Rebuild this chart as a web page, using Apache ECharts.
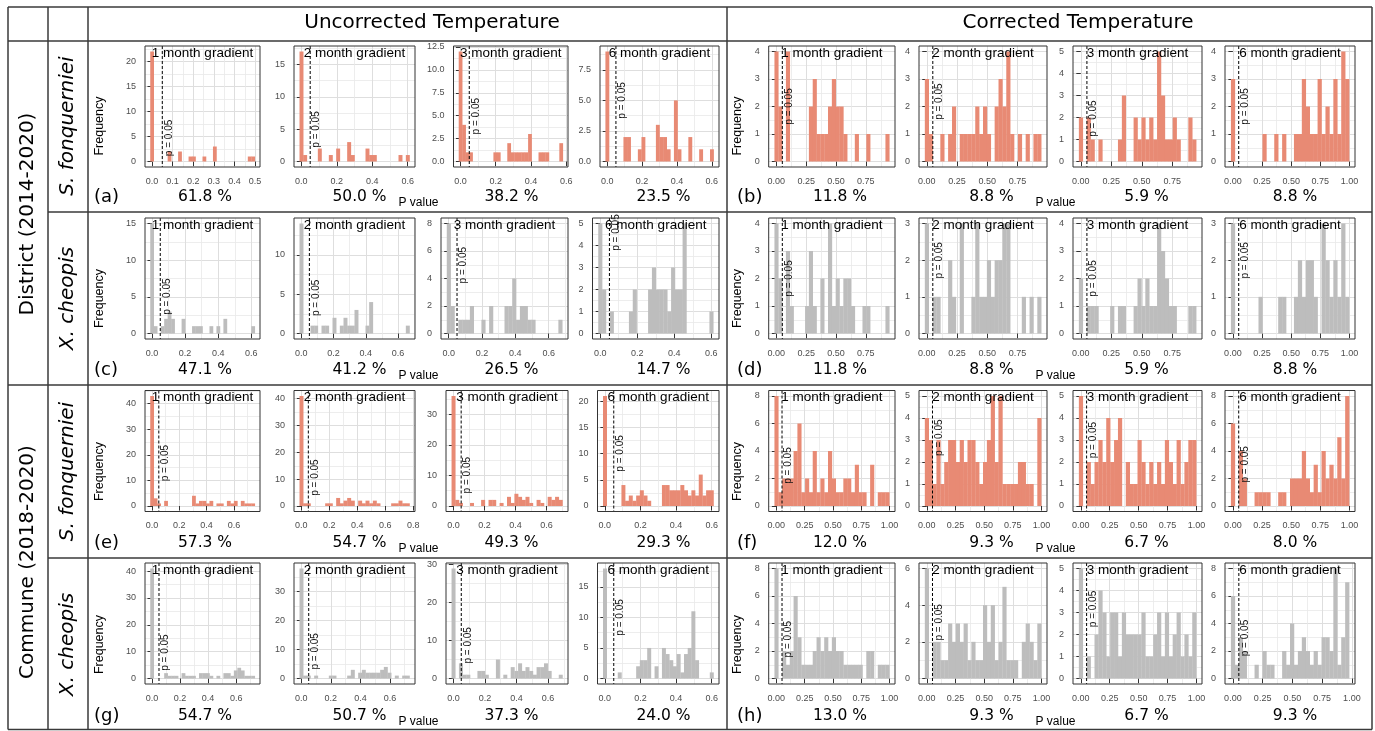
<!DOCTYPE html>
<html>
<head>
<meta charset="utf-8">
<script src="https://cdn.jsdelivr.net/npm/echarts@6/dist/echarts.min.js"></script>
<style>
html, body { margin: 0; padding: 0; background: #fff; }
#chart { width: 1375px; height: 731px; }
</style>
</head>
<body>
<div id="chart"></div>
<script>
// ---------------- data ----------------
const gradients = ['1 month gradient', '2 month gradient', '3 month gradient', '6 month gradient'];

// tick label sets for the p value axis
const xTickU1 = [0, 0.1, 0.2, 0.3, 0.4, 0.5, 0.6];
const xTickU = [0, 0.2, 0.4, 0.6, 0.8];
const xTickC = [0, 0.25, 0.5, 0.75, 1];

// histogram counts, 30 bins each, first bin centred at p = 0, last bin centred at lastBin
const countsA = [
  [22,0,0,0,0,2,0,0,2,0,0,1,1,0,0,1,0,0,3,0,0,0,0,0,0,0,0,0,1,1],
  [17,1,0,0,0,2,0,0,1,0,2,0,0,3,1,0,0,0,2,1,1,0,0,0,0,0,0,1,0,1],
  [12,4,1,1,0,0,0,0,0,0,1,1,0,0,2,1,1,1,1,1,3,0,0,1,1,1,0,0,0,2],
  [9,0,0,0,0,2,2,0,0,1,2,0,0,0,3,2,2,1,0,5,1,0,0,2,0,0,1,0,0,1]
];
const lastBinA = [0.49, 0.6, 0.57, 0.6];
const yStepA = [5, 5, 2.5, 2.5];
const pctA = ['61.8 %', '50.0 %', '38.2 %', '23.5 %'];

const countsB = [
  [4,2,0,4,0,0,0,0,0,2,3,1,1,1,2,3,2,2,1,0,0,1,0,0,1,0,0,0,0,1],
  [3,1,0,0,1,0,1,2,0,1,1,1,1,2,1,2,1,0,2,3,2,4,1,0,1,0,1,0,1,1],
  [2,0,2,1,0,1,0,0,0,0,1,3,0,0,2,1,2,1,2,1,5,3,1,1,2,1,0,0,2,1],
  [3,0,0,0,0,0,0,0,1,0,0,1,0,1,0,0,1,1,3,2,1,1,3,1,2,1,3,1,4,3]
];
const lastBinB = [0.93, 0.93, 0.93, 0.98];
const yStepB = [1, 1, 1, 1];
const pctB = ['11.8 %', '8.8 %', '5.9 %', '8.8 %'];

const countsC = [
  [15,1,0,1,2,3,2,0,0,2,0,0,1,1,1,0,0,1,0,1,0,2,0,0,0,0,0,0,0,1],
  [14,0,0,1,1,0,1,1,0,2,0,1,2,1,1,3,0,0,1,4,0,0,0,0,0,0,0,0,0,1],
  [8,2,0,1,1,1,2,0,0,1,0,2,0,0,0,2,2,4,1,2,2,1,1,0,0,0,0,0,0,1],
  [5,2,0,1,0,0,0,0,1,2,0,0,0,2,3,2,2,2,1,3,2,2,5,0,0,0,0,0,0,1]
];
const lastBinC = [0.61, 0.66, 0.67, 0.6];
const yStepC = [5, 5, 2, 1];
const pctC = ['47.1 %', '41.2 %', '26.5 %', '14.7 %'];

const countsD = [
  [4,2,0,3,1,0,0,0,1,3,1,0,2,0,4,1,2,1,2,2,1,0,0,1,1,0,0,0,0,1],
  [3,0,1,1,0,0,2,1,0,3,0,0,1,3,1,1,2,1,2,2,3,3,0,0,0,1,0,1,0,1],
  [2,0,1,1,1,0,0,0,1,0,1,1,0,0,1,2,1,2,1,1,4,3,2,1,1,0,0,0,1,1],
  [3,0,0,0,0,0,0,1,0,0,0,0,1,1,0,0,1,2,1,2,2,1,0,3,2,1,2,1,3,1]
];
const lastBinD = [0.93, 0.93, 0.93, 0.98];
const yStepD = [1, 1, 1, 1];
const pctD = ['11.8 %', '8.8 %', '5.9 %', '8.8 %'];

const countsE = [
  [43,3,1,0,2,0,0,0,0,0,0,0,4,1,2,2,1,2,0,1,1,0,2,1,2,0,2,1,1,1],
  [41,1,1,0,0,0,0,1,1,0,3,1,2,3,2,0,2,1,2,1,2,1,0,0,0,1,1,2,1,1],
  [36,2,1,0,0,1,0,0,2,0,2,2,0,1,0,3,1,4,3,2,3,1,0,2,1,0,3,2,3,2],
  [21,0,0,0,0,4,1,2,1,2,3,2,1,0,0,0,4,4,3,3,3,4,3,2,3,2,6,2,3,3]
];
const lastBinE = [0.74, 0.76, 0.69, 0.6];
const yStepE = [10, 10, 10, 5];
const pctE = ['57.3 %', '54.7 %', '49.3 %', '29.3 %'];

const countsF = [
  [8,1,2,2,2,4,6,1,2,1,4,1,2,1,4,2,1,1,2,2,1,3,1,1,0,3,0,1,1,1],
  [4,3,1,3,1,2,3,3,2,3,2,3,3,2,1,2,3,5,2,5,1,1,1,1,2,2,1,1,0,4],
  [5,0,2,1,2,3,2,4,2,3,4,0,2,1,1,3,2,1,2,1,2,1,3,2,1,3,1,2,3,3],
  [6,0,4,2,0,0,1,1,1,1,0,0,1,1,0,2,2,2,4,2,1,3,1,4,2,3,2,5,2,8]
];
const lastBinF = [0.98, 0.98, 0.98, 0.98];
const yStepF = [2, 1, 1, 2];
const pctF = ['12.0 %', '9.3 %', '6.7 %', '8.0 %'];

const countsG = [
  [41,0,0,0,2,1,1,1,0,2,1,1,1,0,2,2,2,1,0,1,0,2,2,1,3,4,3,1,1,1],
  [38,1,1,0,1,0,0,0,1,1,0,0,0,1,3,0,2,3,2,2,2,2,3,4,2,0,1,0,1,1],
  [29,0,4,1,1,0,0,2,2,1,0,0,5,0,1,0,3,2,4,2,3,2,1,3,3,4,2,0,0,1],
  [18,0,0,0,1,0,0,0,0,2,3,3,5,0,2,0,5,4,3,2,4,1,4,5,11,3,0,0,0,1]
];
const lastBinG = [0.72, 0.72, 0.68, 0.6];
const yStepG = [10, 10, 10, 5];
const pctG = ['54.7 %', '50.7 %', '37.3 %', '24.0 %'];

const countsH = [
  [8,0,2,1,2,6,3,1,1,1,2,3,2,3,2,3,2,2,1,1,1,1,1,0,2,2,0,1,1,1],
  [6,0,2,2,1,1,3,2,3,2,3,1,2,1,1,4,2,4,1,2,5,1,1,1,0,2,3,2,1,3],
  [5,0,1,0,2,4,3,1,3,3,1,3,2,2,2,2,3,1,1,2,3,1,3,1,2,3,1,2,1,3],
  [6,1,3,2,0,0,1,0,2,1,1,0,0,2,1,4,1,2,3,2,1,2,1,3,3,2,8,1,3,7]
];
const lastBinH = [0.98, 0.98, 0.98, 0.96];
const yStepH = [2, 2, 1, 2];
const pctH = ['13.0 %', '9.3 %', '6.7 %', '9.3 %'];

// ---------------- layout ----------------
const SALMON = '#E88A74', GREY = '#BDBDBD';
const cellTop = [40, 212, 385, 558];
const cellBottom = [212, 385, 558, 731];
const plotTop = [46, 218, 390.5, 563];
const plotH = 121;
const colBase = [[135, 284, 436, 587.5], [763.7, 914, 1068, 1220]];
const colRight = [[260, 415, 568, 719], [895, 1047, 1202, 1355]];
const pctX = [[205, 359.5, 511.5, 663.5], [840, 991.5, 1146.5, 1295]];
// vertical place of the "p = 0.05" note, share of the panel height from top
const pNoteA = [0.76, 0.69, 0.58, 0.45], pNoteB = [0.5, 0.46, 0.6, 0.5];
const pNoteC = [0.65, 0.66, 0.39, 0.12], pNoteD = [0.5, 0.35, 0.5, 0.35];
const pNoteE = [0.6, 0.72, 0.7, 0.52], pNoteF = [0.62, 0.39, 0.41, 0.61];
const pNoteG = [0.74, 0.73, 0.68, 0.45], pNoteH = [0.63, 0.49, 0.38, 0.62];

const rows = [
  { tag: '(a)', side: 0, band: 0, counts: countsA, last: lastBinA, ystep: yStepA, pct: pctA, fill: SALMON, xt: [xTickU1, xTickU, xTickU, xTickU], dec: 1, note: pNoteA },
  { tag: '(b)', side: 1, band: 0, counts: countsB, last: lastBinB, ystep: yStepB, pct: pctB, fill: SALMON, xt: [xTickC, xTickC, xTickC, xTickC], dec: 2, note: pNoteB },
  { tag: '(c)', side: 0, band: 1, counts: countsC, last: lastBinC, ystep: yStepC, pct: pctC, fill: GREY, xt: [xTickU, xTickU, xTickU, xTickU], dec: 1, note: pNoteC },
  { tag: '(d)', side: 1, band: 1, counts: countsD, last: lastBinD, ystep: yStepD, pct: pctD, fill: GREY, xt: [xTickC, xTickC, xTickC, xTickC], dec: 2, note: pNoteD },
  { tag: '(e)', side: 0, band: 2, counts: countsE, last: lastBinE, ystep: yStepE, pct: pctE, fill: SALMON, xt: [xTickU, xTickU, xTickU, xTickU], dec: 1, note: pNoteE },
  { tag: '(f)', side: 1, band: 2, counts: countsF, last: lastBinF, ystep: yStepF, pct: pctF, fill: SALMON, xt: [xTickC, xTickC, xTickC, xTickC], dec: 2, note: pNoteF },
  { tag: '(g)', side: 0, band: 3, counts: countsG, last: lastBinG, ystep: yStepG, pct: pctG, fill: GREY, xt: [xTickU, xTickU, xTickU, xTickU], dec: 1, note: pNoteG },
  { tag: '(h)', side: 1, band: 3, counts: countsH, last: lastBinH, ystep: yStepH, pct: pctH, fill: GREY, xt: [xTickC, xTickC, xTickC, xTickC], dec: 2, note: pNoteH }
];

const SANS = 'Liberation Sans';
const DEJA = 'DejaVu Sans';
const labW = s => [...s].reduce((a, ch) => a + (ch === '.' ? 2.5 : 5), 0);

const grids = [], xAxes = [], yAxes = [], series = [], graphics = [];
const axisText = { color: '#4D4D4D', fontSize: 9, fontFamily: SANS };
const majorGrid = { show: true, lineStyle: { color: '#DEDEDE', width: 1 } };
const minorGrid = { show: true, lineStyle: { color: '#E9E9E9', width: 0.8 } };

rows.forEach(row => {
  row.counts.forEach((counts, ci) => {
    const g = grids.length;
    const hi = row.last[ci], w = hi / 29;
    const cmax = Math.max(...counts);
    const xmin = -2 * w, xmax = hi + 2 * w;
    const ymin = -0.05 * cmax, ymax = 1.05 * cmax;
    const step = row.ystep[ci];
    const ydec = step % 1 ? 1 : 0;
    const yt = [];
    for (let v = 0; v <= ymax + 1e-9; v += step) yt.push(+v.toFixed(4));
    const ym = [];
    for (let v = step / 2; v <= ymax; v += step) ym.push(+v.toFixed(4));
    const xt = row.xt[ci];
    const xs = xt[1] - xt[0];
    const xm = [];
    for (let v = xs / 2; v <= xmax; v += xs) xm.push(+v.toFixed(4));

    const widest = Math.max(...yt.map(v => labW(v.toFixed(ydec))));
    const L = colBase[row.side][ci] + widest;
    const R = colRight[row.side][ci];
    const T = plotTop[row.band];
    grids.push({ left: L, top: T, width: R - L, height: plotH });

    xAxes.push({
      type: 'value', gridIndex: g, min: xmin, max: xmax, position: 'bottom',
      axisLine: { show: false },
      axisTick: { show: true, length: 4.5, lineStyle: { color: '#333', width: 1 }, customValues: xt },
      axisLabel: Object.assign({ margin: 10, customValues: xt, formatter: v => v.toFixed(row.dec) }, axisText),
      splitLine: majorGrid
    });
    xAxes.push({
      type: 'value', gridIndex: g, min: xmin, max: xmax,
      axisLine: { show: false }, axisTick: { show: false, customValues: xm }, axisLabel: { show: false },
      splitLine: minorGrid
    });
    yAxes.push({
      type: 'value', gridIndex: g, min: ymin, max: ymax, position: 'left',
      axisLine: { show: false },
      axisTick: { show: true, length: 4.5, lineStyle: { color: '#333', width: 1 }, customValues: yt },
      axisLabel: Object.assign({ margin: 9, customValues: yt, formatter: v => v.toFixed(ydec) }, axisText),
      splitLine: majorGrid
    });
    yAxes.push({
      type: 'value', gridIndex: g, min: ymin, max: ymax,
      axisLine: { show: false }, axisTick: { show: false, customValues: ym }, axisLabel: { show: false },
      splitLine: minorGrid
    });

    const bars = [];
    counts.forEach((c, i) => { if (c > 0) bars.push([i * w - w / 2, i * w + w / 2, c]); });
    series.push({
      type: 'custom', xAxisIndex: 2 * g, yAxisIndex: 2 * g, silent: true, z: 3,
      itemStyle: { color: row.fill },
      encode: { x: [0, 1], y: 2 },
      data: bars,
      renderItem: (params, api) => {
        const a = api.coord([api.value(0), api.value(2)]);
        const b = api.coord([api.value(1), 0]);
        return { type: 'rect', shape: { x: a[0], y: a[1], width: b[0] - a[0] + 0.3, height: b[1] - a[1] }, style: { fill: row.fill } };
      }
    });
    const noteY = ymax - row.note[ci] * (ymax - ymin);
    series.push({
      type: 'custom', xAxisIndex: 2 * g, yAxisIndex: 2 * g, silent: true, z: 6,
      data: [[0.05, noteY]],
      renderItem: (params, api) => {
        const top = api.coord([0.05, ymax]), bot = api.coord([0.05, ymin]);
        const lab = api.coord([api.value(0), api.value(1)]);
        return {
          type: 'group', children: [
            { type: 'line', shape: { x1: top[0], y1: top[1], x2: bot[0], y2: bot[1] }, style: { stroke: '#000', lineWidth: 1, lineDash: [3, 2] } },
            { type: 'text', x: lab[0] + 1.5, y: lab[1], rotation: Math.PI / 2,
              style: { text: 'p = 0.05', fontSize: 10, fontFamily: SANS, fill: '#111', align: 'center', verticalAlign: 'top' } }
          ]
        };
      }
    });

    graphics.push({ type: 'rect', z: 40, shape: { x: L, y: T, width: R - L, height: plotH }, style: { fill: 'none', stroke: '#333', lineWidth: 1 } });
    graphics.push({ type: 'text', z: 45, x: (L + R) / 2, y: T + 7,
      style: { text: gradients[ci], fontSize: 13.5, fontFamily: SANS, fill: '#000', align: 'center', verticalAlign: 'middle' } });
    graphics.push({ type: 'text', z: 45, x: pctX[row.side][ci], y: cellBottom[row.band] - 15,
      style: { text: row.pct[ci], fontSize: 15.5, fontFamily: DEJA, fill: '#000', align: 'center', verticalAlign: 'middle' } });
  });

  const mid = (cellTop[row.band] + cellBottom[row.band]) / 2;
  graphics.push({ type: 'text', z: 45, x: row.side ? 737 : 94, y: cellBottom[row.band] - 15,
    style: { text: row.tag, fontSize: 18, fontFamily: DEJA, fill: '#000', align: 'left', verticalAlign: 'middle' } });
  graphics.push({ type: 'text', z: 45, x: row.side ? 1055.5 : 418.5, y: cellBottom[row.band] - 9,
    style: { text: 'P value', fontSize: 12, fontFamily: SANS, fill: '#000', align: 'center', verticalAlign: 'middle' } });
  graphics.push({ type: 'text', z: 45, x: row.side ? 737.5 : 100, y: mid, rotation: Math.PI / 2,
    style: { text: 'Frequency', fontSize: 12.5, fontFamily: SANS, fill: '#000', align: 'center', verticalAlign: 'middle' } });
});

// headers and row labels
const headerStyle = { fontSize: 20, fontFamily: DEJA, fill: '#000', align: 'center', verticalAlign: 'middle' };
graphics.push({ type: 'text', z: 45, x: 432, y: 23, style: Object.assign({ text: 'Uncorrected Temperature' }, headerStyle) });
graphics.push({ type: 'text', z: 45, x: 1078, y: 23, style: Object.assign({ text: 'Corrected Temperature' }, headerStyle) });
graphics.push({ type: 'text', z: 45, x: 28, y: 214, rotation: Math.PI / 2, style: Object.assign({ text: 'District (2014-2020)' }, headerStyle) });
graphics.push({ type: 'text', z: 45, x: 28, y: 562, rotation: Math.PI / 2, style: Object.assign({ text: 'Commune (2018-2020)' }, headerStyle) });
const species = ['S. fonquerniei', 'X. cheopis', 'S. fonquerniei', 'X. cheopis'];
species.forEach((s, i) => {
  graphics.push({ type: 'text', z: 45, x: 68, y: (cellTop[i] + cellBottom[i]) / 2, rotation: Math.PI / 2,
    style: Object.assign({ text: s, fontStyle: 'italic' }, headerStyle) });
});

// table rules
const rule = (x1, y1, x2, y2) => graphics.push({ type: 'line', z: 50, shape: { x1, y1, x2, y2 }, style: { stroke: '#3A3A3A', lineWidth: 1.5 } });
rule(8, 7, 1372, 7); rule(8, 41, 1372, 41); rule(48, 212, 1372, 212);
rule(8, 385, 1372, 385); rule(48, 558, 1372, 558); rule(8, 729.5, 1372, 729.5);
rule(8, 7, 8, 729.5); rule(48, 7, 48, 729.5); rule(88, 7, 88, 729.5);
rule(727, 7, 727, 729.5); rule(1372, 7, 1372, 729.5);

const chart = echarts.init(document.getElementById('chart'));
chart.setOption({
  animation: false,
  backgroundColor: '#fff',
  grid: grids,
  xAxis: xAxes,
  yAxis: yAxes,
  series: series,
  graphic: { elements: graphics }
});
</script>
</body>
</html>
